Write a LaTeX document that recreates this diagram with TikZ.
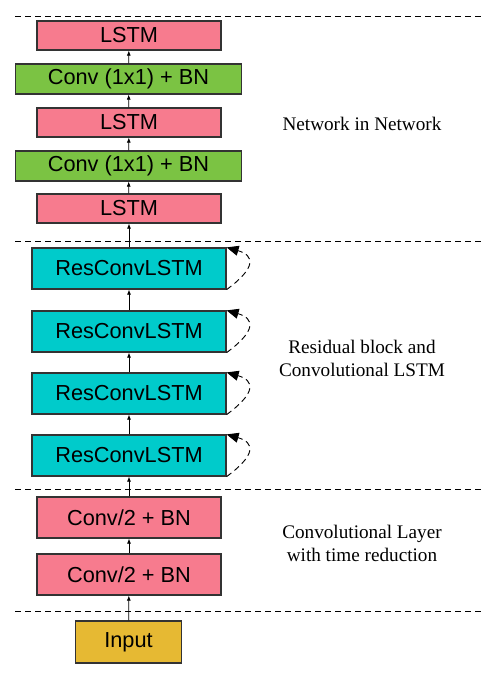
\documentclass[tikz,border=0pt]{standalone}
\usepackage{fontspec}
\setmainfont{Liberation Serif}
\setsansfont{Liberation Sans}
\usepackage{xcolor}
\usepackage{tikz}
\usetikzlibrary{arrows.meta}
\definecolor{LstmPink}{HTML}{F77B8E}
\definecolor{NinGreen}{HTML}{7BC343}
\definecolor{ResCyan}{HTML}{00CBCB}
\definecolor{InYellow}{HTML}{E6B933}
\definecolor{Edge}{HTML}{333333}

\tikzset{
  layer/.style={draw=Edge,line width=0.9pt,inner sep=0pt,font=\sffamily\fontsize{16.3}{18}\selectfont},
  flow/.style={-{Latex[length=3.8pt,width=3pt]},line width=0.55pt},
  recur/.style={dashed,dash pattern=on 4.5pt off 3pt,line width=0.7pt,-{Triangle[length=9pt,width=7.5pt]}},
  sep/.style={dashed,dash pattern=on 4.5pt off 3pt,line width=0.7pt},
  part/.style={align=center,font=\fontsize{14.4}{17.2}\selectfont}
}

\begin{document}
\begin{tikzpicture}[x=0.75pt,y=-0.75pt,>=Latex]
  \useasboundingbox (0,0) rectangle (498,679);
  % section separators
  \draw[sep] (15,16) -- (485,16);
  \draw[sep] (15,241) -- (485,241);
  \draw[sep] (15,489) -- (485,489);
  \draw[sep] (15,611) -- (485,611);
  % network in network
  \node[layer,fill=LstmPink,minimum width=138pt,minimum height=21.75pt] (lstmA) at (129,35.5) {LSTM};
  \node[layer,fill=NinGreen,minimum width=170pt,minimum height=22.5pt] (ninA) at (128.5,79) {Conv (1x1) + BN};
  \node[layer,fill=LstmPink,minimum width=138pt,minimum height=21.75pt] (lstmB) at (129,122.5) {LSTM};
  \node[layer,fill=NinGreen,minimum width=170pt,minimum height=22.5pt] (ninB) at (128.5,166) {Conv (1x1) + BN};
  \node[layer,fill=LstmPink,minimum width=138pt,minimum height=21.75pt] (lstmC) at (129,208.5) {LSTM};
  % residual conv lstm
  \node[layer,fill=ResCyan,minimum width=145.5pt,minimum height=30.75pt] (resA) at (129,268.5) {ResConvLSTM};
  \node[layer,fill=ResCyan,minimum width=145.5pt,minimum height=30.75pt] (resB) at (129,331.5) {ResConvLSTM};
  \node[layer,fill=ResCyan,minimum width=145.5pt,minimum height=30.75pt] (resC) at (129,393.5) {ResConvLSTM};
  \node[layer,fill=ResCyan,minimum width=145.5pt,minimum height=30.75pt] (resD) at (129,455.5) {ResConvLSTM};
  % time reduction
  \node[layer,fill=LstmPink,minimum width=138pt,minimum height=30.75pt] (redA) at (129,517.5) {Conv/2 + BN};
  \node[layer,fill=LstmPink,minimum width=138pt,minimum height=30.75pt] (redB) at (129,574.5) {Conv/2 + BN};
  \node[layer,fill=InYellow,minimum width=80pt,minimum height=31.5pt] (input) at (128.5,642) {Input};
  % forward connections
  \draw[flow] (input) -- (redB);
  \draw[flow] (redB) -- (redA);
  \draw[flow] (redA) -- (resD);
  \draw[flow] (resD) -- (resC);
  \draw[flow] (resC) -- (resB);
  \draw[flow] (resB) -- (resA);
  \draw[flow] (resA) -- (lstmC);
  \draw[flow] (lstmC) -- (ninB);
  \draw[flow] (ninB) -- (lstmB);
  \draw[flow] (lstmB) -- (ninA);
  \draw[flow] (ninA) -- (lstmA);
  % recurrent loops
  \draw[recur] (resA.south east) .. controls +(30,-22) and +(28,8) .. (resA.north east);
  \draw[recur] (resB.south east) .. controls +(30,-22) and +(28,8) .. (resB.north east);
  \draw[recur] (resC.south east) .. controls +(30,-22) and +(28,8) .. (resC.north east);
  \draw[recur] (resD.south east) .. controls +(30,-22) and +(28,8) .. (resD.north east);
  % section names
  \node[part] (ninText) at (362,124) {Network in Network};
  \node[part] (resText) at (362,358) {Residual block and\\Convolutional LSTM};
  \node[part] (redText) at (362,543) {Convolutional Layer\\with time reduction};
\end{tikzpicture}
\end{document}
